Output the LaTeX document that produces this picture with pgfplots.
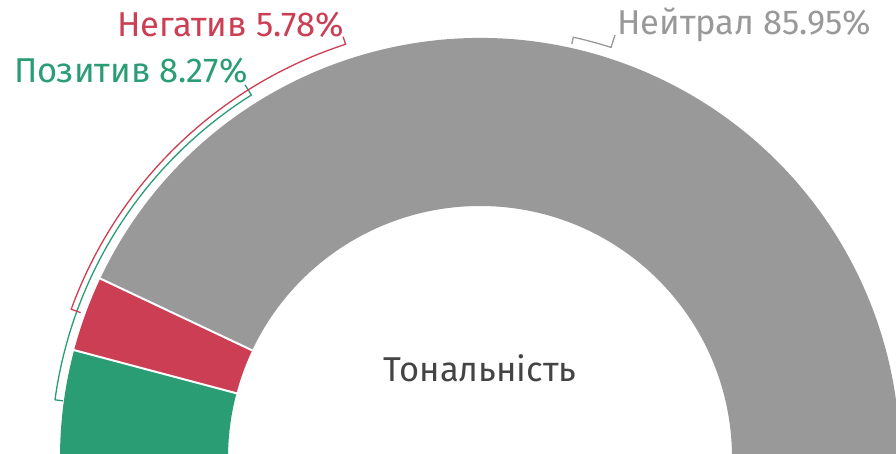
\documentclass[border=0pt]{standalone}
\usepackage{pgfplots}
\pgfplotsset{compat=1.18}
\usepackage{pgfplotstable}
\usepackage{fontspec}
\setmainfont{Fira Sans}
\definecolor{cpos}{HTML}{2A9D74}
\definecolor{cneg}{HTML}{CC3E53}
\definecolor{cneu}{HTML}{999999}
\definecolor{ctxt}{HTML}{444444}
\pgfplotstableread{
value
8.27
5.78
85.95
}\datatable
\begin{document}
\begin{tikzpicture}
\useasboundingbox (0,0) rectangle (896pt,453pt);
\clip (0,0) rectangle (896pt,453pt);
\begin{axis}[at={(0,0)},anchor=south west,x=1pt,y=1pt,
  xmin=-480,xmax=416,ymin=5,ymax=458,hide axis,clip=false]
\pgfplotstablegetelem{0}{value}\of\datatable \let\vpos\pgfplotsretval
\pgfplotstablegetelem{1}{value}\of\datatable \let\vneg\pgfplotsretval
\pgfplotstablegetelem{2}{value}\of\datatable \let\vneu\pgfplotsretval
\pgfmathsetmacro{\aA}{180}
\pgfmathsetmacro{\aB}{180-1.8*\vpos}
\pgfmathsetmacro{\aC}{\aB-1.8*\vneg}
\pgfmathsetmacro{\aD}{\aC-1.8*\vneu}
\def\Ro{420}\def\Ri{252}
\newcommand{\slice}[3]{%
 \fill[#3] (axis cs:{\Ro*cos(#1)},{\Ro*sin(#1)}) arc[start angle=#1,end angle=#2,radius=\Ro pt]
   -- (axis cs:{\Ri*cos(#2)},{\Ri*sin(#2)}) arc[start angle=#2,end angle=#1,radius=\Ri pt] -- cycle;}
\slice{\aA}{\aB}{cpos}
\slice{\aB}{\aC}{cneg}
\slice{\aC}{\aD}{cneu}
\draw[white,line width=2pt] (axis cs:{(\Ri-2)*cos(\aB)},{(\Ri-2)*sin(\aB)}) -- (axis cs:{(\Ro+2)*cos(\aB)},{(\Ro+2)*sin(\aB)});
\draw[white,line width=2pt] (axis cs:{(\Ri-2)*cos(\aC)},{(\Ri-2)*sin(\aC)}) -- (axis cs:{(\Ro+2)*cos(\aC)},{(\Ro+2)*sin(\aC)});
% brackets
\draw[cpos,line width=1.3pt] (axis cs:{421*cos(172.2)},{421*sin(172.2)}) -- (axis cs:{429*cos(172.2)},{429*sin(172.2)})
  arc[start angle=172.2,end angle=122.2,radius=429pt] -- (axis cs:{441*cos(122.2)},{441*sin(122.2)});
\draw[cneg,line width=1.3pt] (axis cs:{425*cos(160)},{425*sin(160)}) -- (axis cs:{435*cos(160)},{435*sin(160)})
  arc[start angle=160,end angle=108,radius=435pt] -- (axis cs:{443*cos(108)},{443*sin(108)});
\draw[cneu,line width=1.3pt] (axis cs:{424*cos(77.5)},{424*sin(77.5)}) -- (axis cs:{431*cos(77.5)},{431*sin(77.5)})
  arc[start angle=77.5,end angle=72.3,radius=431pt] -- (axis cs:{444*cos(72.3)},{444*sin(72.3)});
\node[anchor=base east,inner sep=0,text=cneg,font=\fontsize{34.5}{40}\selectfont] at (axis cs:-136,421) {Негатив 5.78\%};
\node[anchor=base east,inner sep=0,text=cpos,font=\fontsize{34.5}{40}\selectfont] at (axis cs:-232,375) {Позитив 8.27\%};
\node[anchor=base west,inner sep=0,text=cneu,font=\fontsize{34.5}{40}\selectfont] at (axis cs:137,423) {Нейтрал 85.95\%};
\node[anchor=base,inner sep=0,text=ctxt,font=\fontsize{34.5}{40}\selectfont] at (axis cs:0,77) {Тональність};
\end{axis}
\end{tikzpicture}
\end{document}
